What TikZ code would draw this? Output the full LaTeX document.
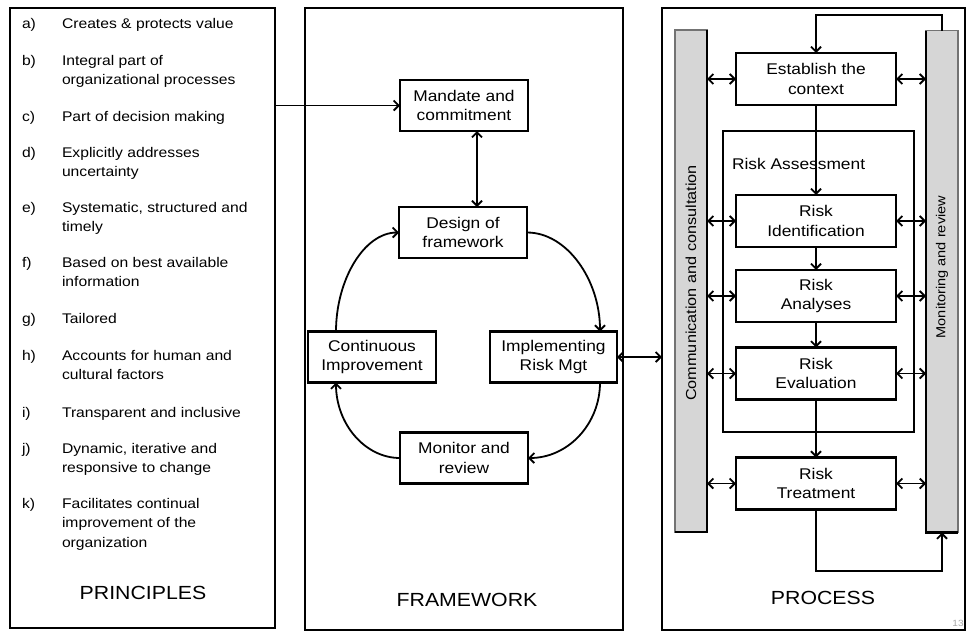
\documentclass[tikz,border=0pt]{standalone}
\usepackage{fontspec}
\setmainfont{Liberation Sans}[FakeStretch=1.12]
\usetikzlibrary{arrows.meta,calc}
\newcommand\bxfont{\fontsize{15.5}{19.5}\selectfont}
\newcommand\itfont{\fontsize{14}{19.5}\selectfont}
\newcommand\ttlfont{\fontsize{19}{22}\selectfont}
\begin{document}
\begin{tikzpicture}[x=1pt,y=-1pt,
  every node/.style={inner sep=0pt, outer sep=0pt},
  panel/.style={draw, line width=2.3pt},
  box/.style={draw, line width=2.4pt, minimum width=128, minimum height=51, align=center, font=\bxfont},
  pbox/.style={draw, line width=2.4pt, minimum width=160, minimum height=52, align=center, font=\bxfont},
  item/.style={anchor=north west, align=left, font=\itfont},
  lbl/.style={anchor=north west, font=\itfont},
  ttl/.style={font=\ttlfont},
  bar/.style={draw=black!55, line width=1.2pt, fill=black!16, minimum width=32, minimum height=502},
  conn/.style={line width=1.8pt},
  tip/.style={-{Straight Barb[length=5pt,width=10pt,line width=1.8pt]}},
  dbl/.style={{Straight Barb[length=5pt,width=10pt,line width=1.8pt]}-{Straight Barb[length=5pt,width=10pt,line width=1.8pt]}},
  ]
\useasboundingbox (0,0) rectangle (969,633);

% panels
\node[panel, minimum width=265, minimum height=620] (principles) at (142.5,318) {};
\node[panel, minimum width=318, minimum height=622] (framework) at (464,319) {};
\node[panel, minimum width=303, minimum height=622] (process) at (813.5,319) {};

% principles list
\foreach \n/\l/\y/\t in {
  a/a)/18/{Creates \& protects value},
  b/b)/55/{Integral part of\\organizational processes},
  c/c)/111/{Part of decision making},
  d/d)/147/{Explicitly addresses\\uncertainty},
  e/e)/202/{Systematic, structured and\\timely},
  f/f)/257/{Based on best available\\information},
  g/g)/313/{Tailored},
  h/h)/350/{Accounts for human and\\cultural factors},
  i/i)/407/{Transparent and inclusive},
  j/j)/443/{Dynamic, iterative and\\responsive to change},
  k/k)/498/{Facilitates continual\\improvement of the\\organization}}
{
  \node[lbl] (let\n) at (22,\y) {\l};
  \node[item] (txt\n) at (62,\y) {\t};
}
\node[ttl] (ptitle) at (143,593) {PRINCIPLES};

% framework
\node[box] (mandate) at (464,105.5) {Mandate and\\commitment};
\node[box] (design) at (463,232.5) {Design of\\framework};
\node[box] (cont) at (372,357) {Continuous\\Improvement};
\node[box, minimum width=127] (impl) at (553.5,357) {Implementing\\Risk Mgt};
\node[box] (monitor) at (464,458) {Monitor and\\review};
\node[ttl] (ftitle) at (467,600) {FRAMEWORK};

\coordinate (mdx) at (477,0);
\coordinate (ix) at (600,0);
\coordinate (cx) at (336,0);

\draw[conn,tip] (mandate.west -| principles.east) -- (mandate.west);
\draw[conn,dbl] (mandate.south -| mdx) -- (design.north -| mdx);
\draw[conn,tip] (design.east) .. controls (567,232.5) and (600,280) .. (impl.north -| ix);
\draw[conn,tip] (impl.south -| ix) .. controls (600,424) and (568,458) .. (monitor.east);
\draw[conn,tip] (monitor.west) .. controls (365,458) and (cx |- 0,424) .. (cont.south -| cx);
\draw[conn,tip] (cont.north -| cx) .. controls (336,280) and (364,232.5) .. (design.west);
\draw[conn,dbl] (impl.east) -- (impl.east -| process.west);

% process
\node[bar] (lbar) at (691,281) {};
\node[bar] (rbar) at (942,281.5) {};
\draw[line width=2.8pt] (lbar.north east) -- (lbar.south east) -- (lbar.south west);
\draw[line width=2.8pt] (rbar.north west) -- (rbar.south west) -- (rbar.south east);
\node[rotate=90, font=\fontsize{14.5}{17}\selectfont] (ctext) at (691,283) {Communication and consultation};
\node[rotate=90, font=\fontsize{13}{16}\selectfont] (mtext) at (942,267) {Monitoring and review};

\node[draw, line width=2pt, minimum width=191, minimum height=301] (ra) at (818.5,281.5) {};
\node[anchor=west, font=\bxfont] (ralbl) at (732,164) {Risk Assessment};

\node[pbox] (est) at (816,79) {Establish the\\context};
\node[pbox] (rid) at (816,221) {Risk\\Identification};
\node[pbox, line width=1.1pt] (ran) at (816,296) {Risk\\Analyses};
\node[pbox] (rev) at (816,373.5) {Risk\\Evaluation};
\node[pbox] (rtr) at (816,483.5) {Risk\\Treatment};
\node[ttl] (prtitle) at (823,598) {PROCESS};
\node[font=\fontsize{9}{10}\selectfont, text=black!35] (pnum) at (958,623) {13};

\draw[line width=2.4pt,tip] (est.south) -- (rid.north);
\draw[line width=2.4pt,tip] (rid.south) -- (ran.north);
\draw[line width=2.4pt,tip] (ran.south) -- (rev.north);
\draw[line width=2.4pt,tip] (rev.south) -- (rtr.north);

\coordinate (looptop) at (816,15);
\coordinate (loopbot) at (816,571);
\draw[line width=2.4pt,tip] (rbar.north) |- (looptop) -- (est.north);
\draw[line width=2.4pt,tip] (rtr.south) -- (loopbot) -| (rbar.south);

\foreach \b in {est,rid,ran,rev,rtr}{
  \draw[conn,dbl] (\b.west -| lbar.east) -- (\b.west);
  \draw[conn,dbl] (\b.east) -- (\b.east -| rbar.west);
}
\end{tikzpicture}
\end{document}
